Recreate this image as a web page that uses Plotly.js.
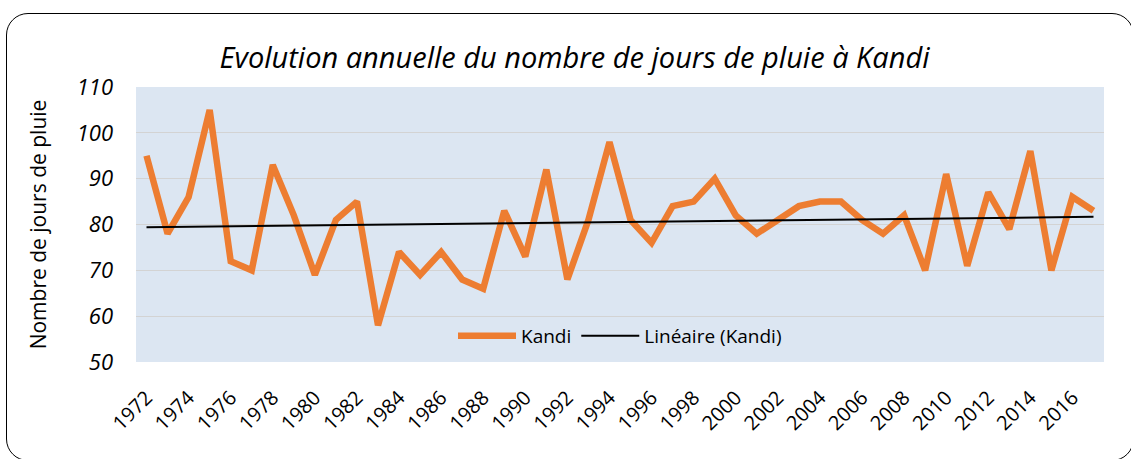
<!DOCTYPE html>
<html>
<head>
<meta charset="utf-8">
<script src="https://cdn.plot.ly/plotly-3.0.1.min.js"></script>
<style>
  html, body { margin: 0; padding: 0; background: #ffffff; overflow: hidden; }
  #wrap { position: relative; width: 1131px; height: 459px; }
  #chart { position: absolute; left: 0; top: 0; width: 1131px; height: 459px; }
  #frame { position: absolute; left: 6px; top: 13px; width: 1128px; height: 448px;
           border: 1.6px solid #000; border-radius: 22px; pointer-events: none; box-sizing: border-box; }
</style>
</head>
<body>
<div id="wrap">
  <div id="chart"></div>
  <div id="frame"></div>
</div>
<script>
const years = [1972,1973,1974,1975,1976,1977,1978,1979,1980,1981,1982,1983,1984,1985,1986,1987,1988,1989,1990,1991,1992,1993,1994,1995,1996,1997,1998,1999,2000,2001,2002,2003,2004,2005,2006,2007,2008,2009,2010,2011,2012,2013,2014,2015,2016,2017];
const kandi = [95,78,86,105,72,70,93,82,69,81,85,58,74,69,74,68,66,83,73,92,68,81,98,81,76,84,85,90,82,78,81,84,85,85,81,78,82,70,91,71,87,79,96,70,86,83];
const tickYears = [1972,1974,1976,1978,1980,1982,1984,1986,1988,1990,1992,1994,1996,1998,2000,2002,2004,2006,2008,2010,2012,2014,2016];
const yTicks = [50,60,70,80,90,100,110];

// Linear trend (least squares), as Excel's "Linéaire" trendline
const n = years.length;
const mx = years.reduce((a,b)=>a+b,0)/n;
const my = kandi.reduce((a,b)=>a+b,0)/n;
let sxy = 0, sxx = 0;
for (let i = 0; i < n; i++) { sxy += (years[i]-mx)*(kandi[i]-my); sxx += (years[i]-mx)**2; }
const slope = sxy/sxx, icpt = my - slope*mx;
const trendX = [years[0], years[n-1]];
const trendY = trendX.map(x => icpt + slope*x);

const font = "'Open Sans', Lato, sans-serif";

const traces = [
  { x: years, y: kandi, type: 'scatter', mode: 'lines', name: 'Kandi',
    line: { color: '#ED7D31', width: 6.5, shape: 'linear' } },
  { x: trendX, y: trendY, type: 'scatter', mode: 'lines', name: 'Linéaire (Kandi)',
    line: { color: '#000000', width: 2 } }
];

const layout = {
  width: 1131, height: 459,
  margin: { l: 136, r: 27, t: 87, b: 97 },
  paper_bgcolor: '#ffffff',
  plot_bgcolor: '#DCE6F2',
  font: { family: font, color: '#000' },
  title: { text: 'Evolution annuelle du nombre de jours de pluie à Kandi',
           font: { family: font, size: 29, style: 'italic', color: '#000' },
           x: 0.508, xanchor: 'center', y: 0.875, yanchor: 'middle' },
  xaxis: {
    range: [1971.5, 2017.5], tickvals: tickYears, ticktext: tickYears.map(String),
    tickangle: -45, tickfont: { family: font, size: 20 },
    showgrid: false, zeroline: false, showline: false, ticks: '', ticklen: 0,
    ticklabelstandoff: 19, fixedrange: true
  },
  yaxis: {
    range: [50, 110], tickvals: yTicks, ticktext: yTicks.map(String),
    tickfont: { family: font, size: 22, style: 'italic' },
    showgrid: true, gridcolor: '#D3D3D3', gridwidth: 1.2, zeroline: false, showline: false,
    ticks: '', ticklabelstandoff: 22,
    title: { text: 'Nombre de jours de pluie', font: { family: font, size: 21 }, standoff: 24 }
  },
  legend: { orientation: 'h', x: 0.5, xanchor: 'center', y: 0.095, yanchor: 'middle',
            bgcolor: 'rgba(0,0,0,0)', font: { family: font, size: 19 }, itemwidth: 58,
            traceorder: 'normal' },
  showlegend: true
};

Plotly.newPlot('chart', traces, layout, { displayModeBar: false, staticPlot: true });
</script>
</body>
</html>
